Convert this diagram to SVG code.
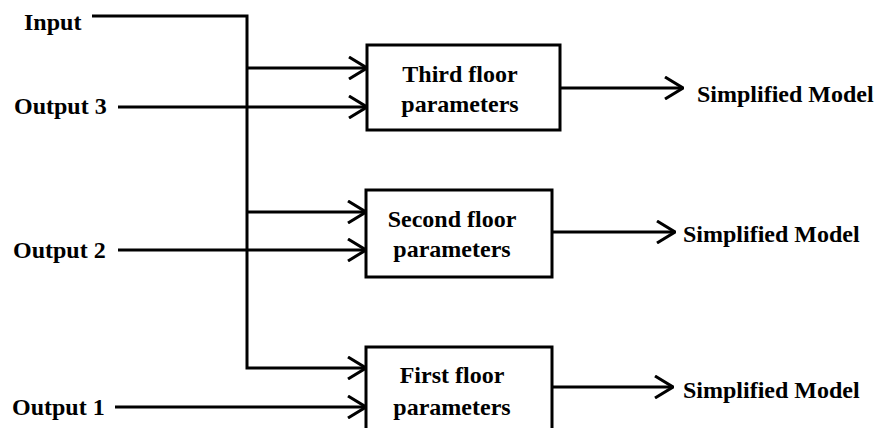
<svg xmlns="http://www.w3.org/2000/svg" width="888" height="428" viewBox="0 0 888 428">
<style>
text{font-family:"Liberation Serif","Times New Roman",serif;font-weight:bold;font-size:24px;fill:#000}
.c{text-anchor:middle}
.ln{fill:none;stroke:#000;stroke-width:3}
.bx{fill:#fff;stroke:#000;stroke-width:3}
</style>
<defs>
<marker id="ah" viewBox="0 0 20 24" refX="19" refY="12" markerWidth="20" markerHeight="24" markerUnits="userSpaceOnUse" orient="auto">
<path d="M1,1 L19,12 L1,23" fill="none" stroke="#000" stroke-width="3"/>
</marker>
</defs>
<rect width="888" height="428" fill="#fff"/>
<g id="connectors">
<polyline class="ln" points="92,16 247,16 247,368 366,368" marker-end="url(#ah)"/>
<line class="ln" x1="247" y1="68" x2="367" y2="68" marker-end="url(#ah)"/>
<line class="ln" x1="118" y1="107" x2="367" y2="107" marker-end="url(#ah)"/>
<line class="ln" x1="247" y1="212" x2="366" y2="212" marker-end="url(#ah)"/>
<line class="ln" x1="118" y1="250" x2="366" y2="250" marker-end="url(#ah)"/>
<line class="ln" x1="115" y1="407" x2="366" y2="407" marker-end="url(#ah)"/>
<line class="ln" x1="560" y1="88" x2="683" y2="88" marker-end="url(#ah)"/>
<line class="ln" x1="552" y1="232" x2="675" y2="232" marker-end="url(#ah)"/>
<line class="ln" x1="552" y1="387" x2="673" y2="387" marker-end="url(#ah)"/>
</g>
<g id="input"><text x="24" y="30">Input</text></g>
<g id="output3"><text x="14" y="114">Output 3</text></g>
<g id="output2"><text x="13" y="258">Output 2</text></g>
<g id="output1"><text x="12" y="415">Output 1</text></g>
<g id="third">
<rect class="bx" x="367" y="45" width="193" height="85"/>
<text class="c" x="460" y="82">Third floor</text>
<text class="c" x="460" y="112">parameters</text>
</g>
<g id="second">
<rect class="bx" x="366" y="190" width="186" height="87"/>
<text class="c" x="452" y="227">Second floor</text>
<text class="c" x="452" y="257">parameters</text>
</g>
<g id="first">
<rect class="bx" x="366" y="347" width="186" height="95"/>
<text class="c" x="452" y="383">First floor</text>
<text class="c" x="452" y="415">parameters</text>
</g>
<g id="model3"><text x="697" y="102">Simplified Model</text></g>
<g id="model2"><text x="683" y="242">Simplified Model</text></g>
<g id="model1"><text x="683" y="398">Simplified Model</text></g>
</svg>
